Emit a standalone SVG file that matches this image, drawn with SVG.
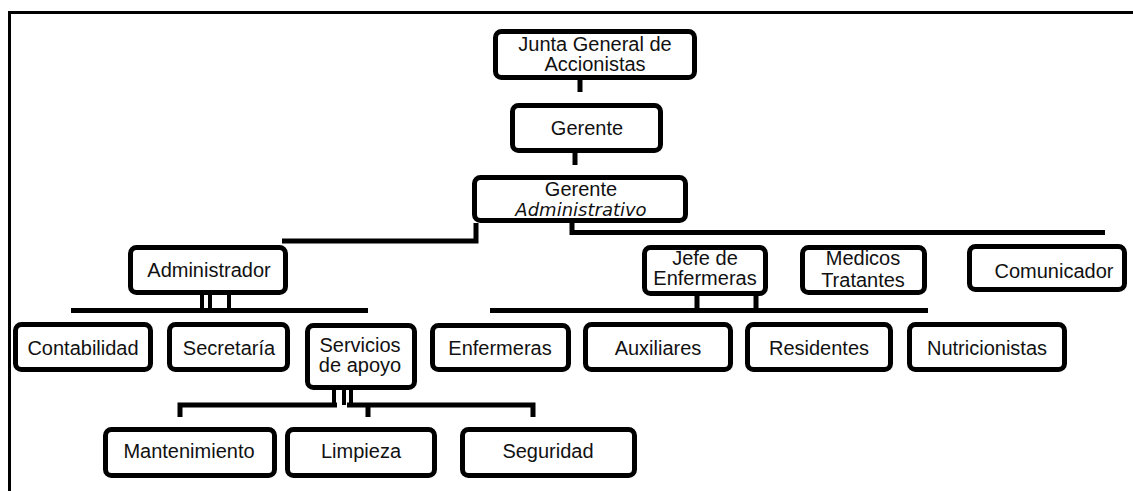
<svg xmlns="http://www.w3.org/2000/svg" width="1133" height="491" viewBox="0 0 1133 491">
<style>
.box{fill:#fff;stroke:#000;stroke-width:5}
.t{font-family:"Liberation Sans",Arial,sans-serif;font-size:20px;fill:#111;text-anchor:middle}
.it{font-family:"DejaVu Sans",sans-serif;font-size:18px;font-style:italic;fill:#111;text-anchor:middle}
.c{fill:none;stroke:#000;stroke-width:5}
.frame{fill:none;stroke:#000;stroke-width:3}
</style>
<rect width="1133" height="491" fill="#fff"/>
<path class="frame" d="M9.5 491 V12.5 H1133"/>
<g id="connectors">
<path class="c" d="M580 80 V92"/>
<path class="c" d="M575 153 V165"/>
<path class="c" d="M476 223 V241 H282"/>
<path class="c" d="M572 223 V232.5 H1105"/>
<path class="c" d="M202 295 V310 M210 295 V310 M229 295 V310" style="stroke-width:4"/>
<path class="c" d="M71 310.5 H368"/>
<path class="c" d="M697 296 V310 M756 296 V310"/>
<path class="c" d="M490 310.5 H928"/>
<path class="c" d="M334 390 V405 M344 390 V405 M351 390 V405" style="stroke-width:4"/>
<path class="c" d="M180 417 V405 H337 M347 405 H533 V417 M368 405 V417"/>
</g>
<g id="junta"><rect class="box" x="495.5" y="31.5" width="199" height="46" rx="6"/><text class="t" x="595" y="51">Junta General de</text><text class="t" x="595" y="71">Accionistas</text></g>
<g id="gerente"><rect class="box" x="512.5" y="105.5" width="148" height="45" rx="6"/><text class="t" x="587" y="135">Gerente</text></g>
<g id="gerente-adm"><rect class="box" x="474.5" y="177.5" width="211" height="43" rx="6"/><text class="t" x="581" y="196">Gerente</text><text class="it" x="581" y="216">Administrativo</text></g>
<g id="administrador"><rect class="box" x="130.5" y="247.5" width="155" height="45" rx="6"/><text class="t" x="209" y="277">Administrador</text></g>
<g id="jefe"><rect class="box" x="644.5" y="247.5" width="121" height="46" rx="6"/><text class="t" x="705" y="265">Jefe de</text><text class="t" x="705" y="285">Enfermeras</text></g>
<g id="medicos"><rect class="box" x="802.5" y="247.5" width="122" height="45" rx="6"/><text class="t" x="863" y="265">Medicos</text><text class="t" x="863" y="287">Tratantes</text></g>
<g id="comunicador"><rect class="box" x="969.5" y="246.5" width="155" height="43" rx="6"/><text class="t" x="1054" y="278">Comunicador</text></g>
<g id="contabilidad"><rect class="box" x="15.5" y="324.5" width="135" height="45" rx="6"/><text class="t" x="83" y="355">Contabilidad</text></g>
<g id="secretaria"><rect class="box" x="169.5" y="324.5" width="118" height="45" rx="6"/><text class="t" x="229" y="355">Secretaría</text></g>
<g id="servicios"><rect class="box" x="307.5" y="325.5" width="107" height="62" rx="6"/><text class="t" x="360" y="352">Servicios</text><text class="t" x="360" y="372">de apoyo</text></g>
<g id="enfermeras"><rect class="box" x="432.5" y="325.5" width="136" height="44" rx="6"/><text class="t" x="500" y="355">Enfermeras</text></g>
<g id="auxiliares"><rect class="box" x="585.5" y="324.5" width="145" height="45" rx="6"/><text class="t" x="658" y="355">Auxiliares</text></g>
<g id="residentes"><rect class="box" x="747.5" y="324.5" width="143" height="45" rx="6"/><text class="t" x="819" y="355">Residentes</text></g>
<g id="nutricionistas"><rect class="box" x="909.5" y="324.5" width="155" height="45" rx="6"/><text class="t" x="987" y="355">Nutricionistas</text></g>
<g id="mantenimiento"><rect class="box" x="105.5" y="429.5" width="169" height="46" rx="6"/><text class="t" x="189" y="458">Mantenimiento</text></g>
<g id="limpieza"><rect class="box" x="287.5" y="429.5" width="147" height="46" rx="6"/><text class="t" x="361" y="458">Limpieza</text></g>
<g id="seguridad"><rect class="box" x="462.5" y="429.5" width="172" height="46" rx="6"/><text class="t" x="548" y="458">Seguridad</text></g>
</svg>
